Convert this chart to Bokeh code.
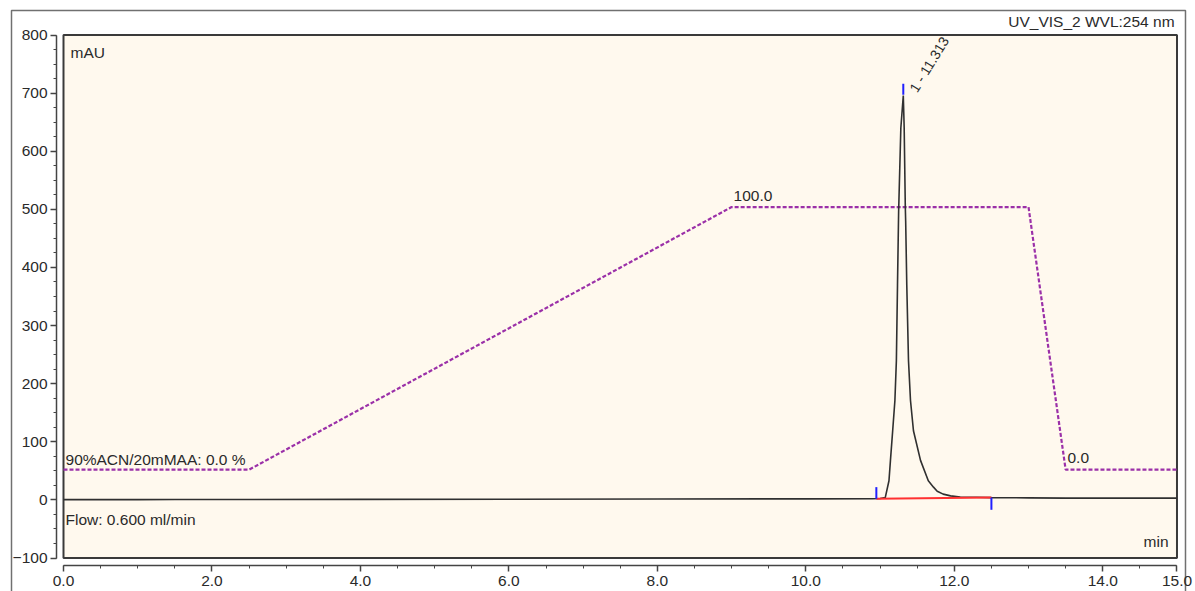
from bokeh.plotting import figure
from bokeh.models import (LinearAxis, FixedTicker, NumeralTickFormatter, Range1d)
from bokeh.core.properties import value
from bokeh.embed import file_html
from bokeh.resources import INLINE

# ---------------- data ----------------
# chromatogram (UV_VIS_2, 254 nm): time [min], signal [mAU]
time_min = [0.0, 1.0, 1.5, 1.75, 2.0, 4.0, 6.0, 8.0, 10.0, 10.9, 11.0, 11.07, 11.12, 11.14,
            11.17, 11.20, 11.22, 11.235, 11.25, 11.28, 11.313, 11.325, 11.34, 11.345,
            11.36, 11.383, 11.41, 11.45, 11.545, 11.65, 11.72, 11.77, 11.85, 11.95,
            12.08, 12.3, 12.5, 13.0, 13.5, 14.0, 14.5, 15.0]
signal_mau = [0.5, 0.5, 0.8, 0.6, 0.7, 1.0, 1.2, 1.5, 1.8, 2.0, 2.5, 4.0, 33.0, 68.0,
              119.0, 171.0, 240.0, 370.0, 495.0, 640.0, 696.0, 640.0, 505.0, 480.0,
              370.0, 240.0, 171.0, 119.0, 68.0, 33.0, 22.0, 15.0, 10.0, 7.0,
              5.0, 4.5, 4.0, 3.5, 3.0, 3.0, 3.0, 3.0]

# gradient program: %B (90%ACN/20mMAA) vs time
grad_time = [0.0, 2.5, 9.0, 13.0, 13.5, 15.0]
grad_pct = [0.0, 0.0, 100.0, 100.0, 0.0, 0.0]
grad_offset_mau = 52.0     # display offset of 0 %
grad_scale_mau = 4.52      # mAU per %

# integration of peak 1
peak_rt = 11.313
peak_height = 696.0
peak_label = "1 - 11.313"
base_start = (10.95, 2.0)
base_end = (12.50, 4.0)

x_ticks = [0.0, 2.0, 4.0, 6.0, 8.0, 10.0, 12.0, 14.0, 15.0]
x_minor = [i * 0.5 for i in range(31)]
y_ticks = [-100, 0, 100, 200, 300, 400, 500, 600, 700, 800]
y_minor = [-100 + 25 * i for i in range(37)]

FONT = value("Liberation Sans")
TXT = "#2a2a2a"
BEIGE = "#FFF9EE"
PURPLE = "#9B30A8"

# ---------------- figure ----------------
X0, X1 = -0.8487, 15.2494
Y0, Y1 = -157.6, 859.4
p = figure(width=1195, height=591, output_backend="svg", toolbar_location=None,
           x_axis_location=None, y_axis_location=None,
           x_range=Range1d(X0, X1), y_range=Range1d(Y0, Y1),
           min_border_left=0, min_border_right=0, min_border_top=0, min_border_bottom=0)
p.grid.visible = False
p.background_fill_color = "white"
p.border_fill_color = "white"
p.outline_line_color = None

# outer frame of the report panel
p.quad(left=[-0.7005], right=[15.1146], bottom=[Y0 - 5], top=[842.2],
       fill_color=None, line_color="#707070", line_width=1.5)

# inner plot box
p.quad(left=[x_ticks[0]], right=[x_ticks[-1]], bottom=[y_ticks[0]], top=[y_ticks[-1]],
       fill_color=BEIGE, line_color="#3a3a3a", line_width=2)

# axes (offset from the box)
yax = LinearAxis(fixed_location=-0.094, bounds=(y_ticks[0], y_ticks[-1]),
                 ticker=FixedTicker(ticks=y_ticks, minor_ticks=y_minor))
xax = LinearAxis(fixed_location=-112.9, bounds=(x_ticks[0], x_ticks[-1]),
                 ticker=FixedTicker(ticks=x_ticks, minor_ticks=x_minor),
                 formatter=NumeralTickFormatter(format="0.0"))
for ax in (xax, yax):
    ax.axis_line_color = "#444444"
    ax.axis_line_width = 1.5
    ax.major_tick_line_color = "#444444"
    ax.minor_tick_line_color = "#444444"
    ax.major_tick_line_width = 1.5
    ax.major_tick_in = 0
    ax.major_tick_out = 6
    ax.minor_tick_in = 0
    ax.minor_tick_out = 3
    ax.major_label_text_font = "Liberation Sans"
    ax.major_label_text_font_size = "15.5px"
    ax.major_label_text_color = TXT
yax.major_label_standoff = 3
xax.major_label_standoff = 4
p.add_layout(yax, "left")
p.add_layout(xax, "below")

# gradient
grad_y = [grad_offset_mau + v * grad_scale_mau for v in grad_pct]
p.line(grad_time, grad_y, line_color=PURPLE, line_width=2.2, line_dash="4 2")

# chromatogram
p.line(time_min, signal_mau, line_color="#303030", line_width=1.6)

# integration baseline and delimiters
p.line([base_start[0], base_end[0]], [base_start[1], base_end[1]], line_color="#FF3030", line_width=2)
p.segment(x0=[base_start[0], base_end[0], peak_rt],
          y0=[base_start[1], base_end[1], peak_height + 1],
          x1=[base_start[0], base_end[0], peak_rt],
          y1=[base_start[1] + 20, base_end[1] - 21, peak_height + 20],
          line_color="#2020FF", line_width=2)

# texts
def label(x, y, t, align="left", angle=0.0, size="15.5px"):
    p.text(x=[x], y=[y], text=[t], text_font=FONT, text_font_size=size,
           text_color=TXT, text_align=align, text_baseline="middle", angle=angle)

label(0.094, 770, "mAU")
label(14.967, 823, "UV_VIS_2 WVL:254 nm", align="right")
label(14.886, -71.6, "min", align="right")
label(0.027, -33, "Flow: 0.600 ml/min")
label(grad_time[0] + 0.027, grad_y[0] + 17.5, "90%ACN/20mMAA: " + f"{grad_pct[0]:.1f} %")
label(grad_time[2] + 0.026, grad_y[2] + 19.5, f"{grad_pct[2]:.1f}")
label(grad_time[4] + 0.025, grad_y[4] + 20, f"{grad_pct[4]:.1f}")
label(peak_rt + 0.13, peak_height + 8, peak_label, angle=1.02, size="14px")

open("out.html", "w").write(file_html(p, INLINE))
